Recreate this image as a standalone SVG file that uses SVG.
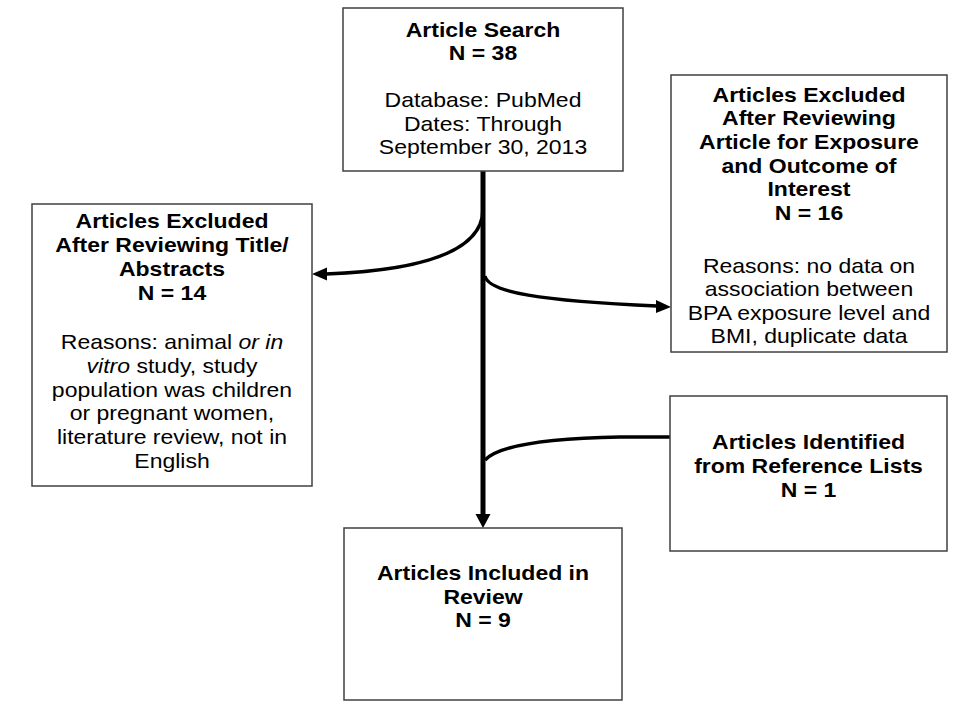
<svg xmlns="http://www.w3.org/2000/svg" width="964" height="714" viewBox="0 0 964 714">
<style>
.box{fill:#fff;stroke:#404040;stroke-width:1.5}
text{font-family:"Liberation Sans",Arial,sans-serif;font-size:20px;fill:#000;text-anchor:middle}
.b{font-weight:bold}
.it{font-style:italic}
.con{fill:none;stroke:#000;stroke-linecap:butt}
.head{fill:#000}
</style>
<rect width="964" height="714" fill="#fff"/>
<g id="connectors">
<path class="con" d="M483 171 L483 516" stroke-width="5"/>
<polygon class="head" points="475.5,514 490.5,514 483,528"/>
<path class="con" d="M483 209 Q483 268 326 274" stroke-width="3.5"/>
<polygon class="head" points="327,267.5 327,280.5 312,274"/>
<path class="con" d="M485 276 C488 292 540 301 657 306" stroke-width="3.5"/>
<polygon class="head" points="656,300 656,313 671,307"/>
<path class="con" d="M670 437 L620 437 Q505 439 485 460" stroke-width="3.5"/>
</g>
<g id="search">
<rect class="box" x="343" y="8" width="280" height="163"/>
<g transform="translate(483,0) scale(1.15,1)">
<text class="b" x="0" y="37">Article Search</text>
<text class="b" x="0" y="60.5">N = 38</text>
<text x="0" y="107.5">Database: PubMed</text>
<text x="0" y="131">Dates: Through</text>
<text x="0" y="154.5">September 30, 2013</text>
</g>
</g>
<g id="excluded-title">
<rect class="box" x="32" y="204" width="280" height="282"/>
<g transform="translate(172,0) scale(1.15,1)">
<text class="b" x="0" y="228">Articles Excluded</text>
<text class="b" x="0" y="252">After Reviewing Title/</text>
<text class="b" x="0" y="276">Abstracts</text>
<text class="b" x="0" y="300">N = 14</text>
<text x="0" y="349">Reasons: animal <tspan class="it">or in</tspan></text>
<text x="0" y="373"><tspan class="it">vitro</tspan> study, study</text>
<text x="0" y="397">population was children</text>
<text x="0" y="420.5">or pregnant women,</text>
<text x="0" y="444.5">literature review, not in</text>
<text x="0" y="468">English</text>
</g>
</g>
<g id="excluded-exposure">
<rect class="box" x="671" y="75" width="276" height="277"/>
<g transform="translate(809,0) scale(1.15,1)">
<text class="b" x="0" y="102">Articles Excluded</text>
<text class="b" x="0" y="125.5">After Reviewing</text>
<text class="b" x="0" y="149">Article for Exposure</text>
<text class="b" x="0" y="173">and Outcome of</text>
<text class="b" x="0" y="196.5">Interest</text>
<text class="b" x="0" y="220.5">N = 16</text>
<text x="0" y="273">Reasons: no data on</text>
<text x="0" y="296.5">association between</text>
<text x="0" y="320">BPA exposure level and</text>
<text x="0" y="343.5">BMI, duplicate data</text>
</g>
</g>
<g id="reference-lists">
<rect class="box" x="670" y="396" width="277" height="155"/>
<g transform="translate(808.5,0) scale(1.15,1)">
<text class="b" x="0" y="449">Articles Identified</text>
<text class="b" x="0" y="473">from Reference Lists</text>
<text class="b" x="0" y="497">N = 1</text>
</g>
</g>
<g id="included">
<rect class="box" x="344" y="528" width="278" height="172"/>
<g transform="translate(483,0) scale(1.15,1)">
<text class="b" x="0" y="580">Articles Included in</text>
<text class="b" x="0" y="604">Review</text>
<text class="b" x="0" y="627.5">N = 9</text>
</g>
</g>
</svg>
